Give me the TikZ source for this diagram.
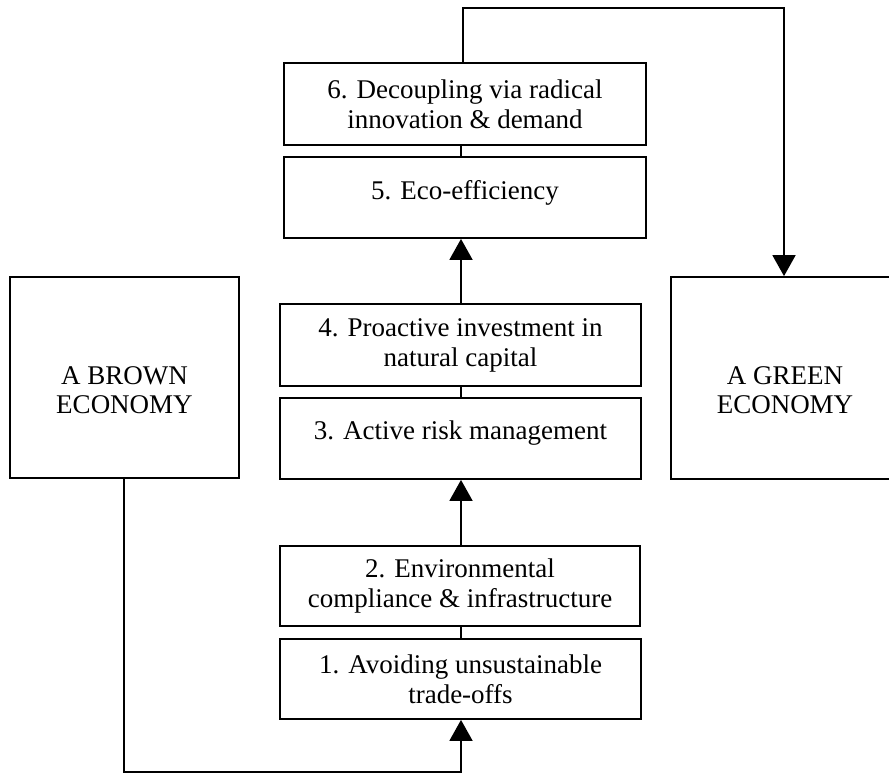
\documentclass[tikz,border=0pt]{standalone}
\usepackage{fontspec}
\setmainfont{Liberation Serif}
\usetikzlibrary{arrows.meta}
\begin{document}
\begin{tikzpicture}[x=1pt,y=-1pt,
  every path/.style={line width=1.8pt},
  stepbox/.style={draw, line width=1.8pt, inner sep=0pt, align=center,
    font=\fontsize{27}{30}\selectfont, minimum height=81pt},
  txt/.style={align=center, font=\fontsize{27}{29}\selectfont, inner sep=0pt},
  arr/.style={-{Triangle[length=21pt,width=23pt]}}
]
\useasboundingbox (0,0) rectangle (889,774);
\fill[white] (0,0) rectangle (889,774);

\node[stepbox, minimum width=362pt, minimum height=82pt] (b6) at (465,104)
  {6. Decoupling via radical\\innovation \& demand};
\node[stepbox, minimum width=362pt, label={[txt,yshift=5pt]center:5. Eco-efficiency}] (b5) at (465,197.5) {};
\node[stepbox, minimum width=361pt, minimum height=82pt] (b4) at (460.5,345)
  {4. Proactive investment in\\natural capital};
\node[stepbox, minimum width=361pt, label={[txt,yshift=5pt]center:3. Active risk management}] (b3) at (460.5,438.5) {};
\node[stepbox, minimum width=360pt, minimum height=80pt] (b2) at (460,586)
  {2. Environmental\\compliance \& infrastructure};
\node[stepbox, minimum width=361pt, minimum height=80pt] (b1) at (460.5,679)
  {1. Avoiding unsustainable\\trade-offs};

\node[stepbox, minimum width=229pt, minimum height=201pt,
  label={[txt,yshift=-13pt]center:A BROWN\\ECONOMY}] (brown) at (124.5,377.5) {};
\node[stepbox, minimum width=228pt, minimum height=202pt,
  label={[txt,yshift=-12pt]center:A GREEN\\ECONOMY}] (green) at (785,378) {};

\coordinate (top) at (0,8);
\coordinate (bot) at (0,772);
\coordinate (mid) at (461,0);
\coordinate (left) at (124,0);
\coordinate (right) at (784,0);

\draw[arr] (b6.north -| 463,0) -- (top -| 463,0) -- (top -| right) -- (green.north -| right);
\draw (b6.south -| mid) -- (b5.north -| mid);
\draw[arr] (b4.north -| mid) -- (b5.south -| mid);
\draw (b4.south -| mid) -- (b3.north -| mid);
\draw[arr] (b2.north -| mid) -- (b3.south -| mid);
\draw (b2.south -| mid) -- (b1.north -| mid);
\draw[arr] (brown.south -| left) -- (bot -| left) -- (bot -| mid) -- (b1.south -| mid);
\end{tikzpicture}
\end{document}
